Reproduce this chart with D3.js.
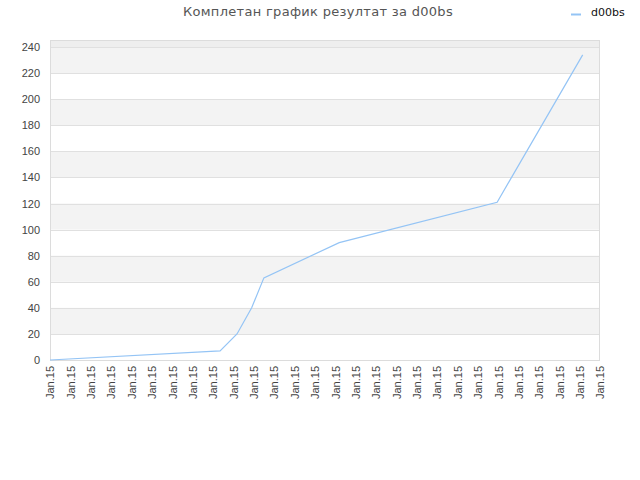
<!DOCTYPE html>
<html lang="sr">
  <head>
    <meta charset="utf-8">
    <title>d00bs</title>
    <script src="https://cdn.jsdelivr.net/npm/d3@7"></script>
    <style>
html, body {
  margin: 0;
  padding: 0;
  background: #fff;
}
svg {
  font-family: "DejaVu Sans", sans-serif;
}
.tick text {
  fill: #444;
  font-size: 11px;
}
    </style>
  </head>
  <body>
    <svg id="chart" width="640" height="480"></svg>
    <script>

// data (x in tick units, all ticks say Jan.15)
var seriesName = "d00bs";
var pointX = [0, 8.35, 9.18, 9.9, 10.5, 14.2, 21.95, 26.15];
var pointY = [0, 7, 20, 40, 63, 90, 121, 234];
var xTickLabels = d3.range(28).map(function() { return "Jan.15"; });
var yTicks = [0, 20, 40, 60, 80, 100, 120, 140, 160, 180, 200, 220, 240];
var title = "Комплетан график резултат за d00bs";

var svg = d3.select("#chart");
// plot box (don't call it "top", that one belongs to window)
var plotL = 50, plotR = 600, plotT = 40, plotB = 360;

var x = d3.scaleLinear().domain([0, xTickLabels.length - 1]).range([plotL, plotR]);
var y = d3.scaleLinear().domain([0, 245.4]).range([plotB, plotT]);

// stripes
svg.append("rect")
    .attr("x", plotL).attr("y", plotT)
    .attr("width", plotR - plotL).attr("height", y(240) - plotT)
    .style("fill", "#eeeeee");

svg.selectAll("rect.band")
    .data(yTicks.filter(function(d, i) { return i % 2 == 1; }))
  .enter().append("rect")
    .attr("class", "band")
    .attr("x", plotL)
    .attr("y", function(d) { return y(d + 20); })
    .attr("width", plotR - plotL)
    .attr("height", function(d) { return y(d) - y(d + 20); })
    .style("fill", "#f3f3f3");

// gridlines
svg.selectAll("line.grid")
    .data(yTicks.slice(1))
  .enter().append("line")
    .attr("class", "grid")
    .attr("x1", plotL).attr("x2", plotR)
    .attr("y1", function(d) { return Math.round(y(d)) + 0.5; })
    .attr("y2", function(d) { return Math.round(y(d)) + 0.5; })
    .style("stroke", "#e0e0e0");

// rahmen
svg.append("rect")
    .attr("x", plotL + 0.5).attr("y", plotT + 0.5)
    .attr("width", plotR - plotL - 1).attr("height", plotB - plotT)
    .style("fill", "none")
    .style("stroke", "#dcdcdc");

// y axis
var yAxis = svg.append("g")
    .attr("transform", "translate(" + plotL + ",0)")
    .call(d3.axisLeft(y).tickValues(yTicks).tickSize(0).tickPadding(10));
yAxis.select(".domain").remove();

// x axis, labels turned up
var xAxis = svg.append("g")
    .attr("transform", "translate(0," + plotB + ")")
    .call(d3.axisBottom(x)
      .tickValues(d3.range(xTickLabels.length))
      .tickFormat(function(d) { return xTickLabels[d]; })
      .tickSize(0));
xAxis.select(".domain").remove();
xAxis.selectAll("text")
    .attr("transform", "rotate(-90)")
    .attr("x", -6)
    .attr("y", 0)
    .attr("dy", "0.35em")
    .style("text-anchor", "end");

// the line
var line = d3.line()
    .x(function(d, i) { return x(pointX[i]); })
    .y(function(d) { return y(d); });

svg.append("path")
    .datum(pointY)
    .attr("d", line)
    .style("fill", "none")
    .style("stroke", "#94c4f5")
    .style("stroke-width", 1.2);

// title + legend
svg.append("text")
    .attr("x", 318).attr("y", 16)
    .attr("text-anchor", "middle")
    .style("font-size", "13px")
    .style("letter-spacing", "0.3px")
    .style("fill", "#555")
    .text(title);

svg.append("line")
    .attr("x1", 571).attr("x2", 581)
    .attr("y1", 14.5).attr("y2", 14.5)
    .style("stroke", "#94c4f5")
    .style("stroke-width", 2);

svg.append("text")
    .attr("x", 591).attr("y", 16)
    .style("font-size", "11px")
    .style("fill", "#111")
    .text(seriesName);

    </script>
  </body>
</html>
